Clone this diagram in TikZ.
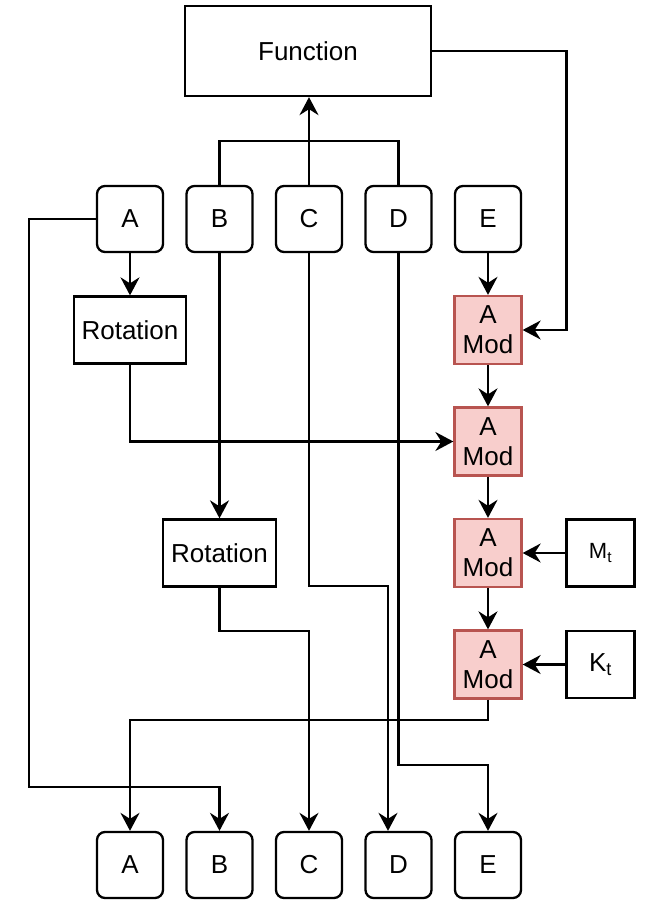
\documentclass[tikz,border=0pt]{standalone}
\usepackage{fontspec}
\setmainfont{Liberation Sans}
\usetikzlibrary{positioning,arrows.meta}
\definecolor{modfill}{HTML}{F8CECC}
\definecolor{modline}{HTML}{B85450}
\tikzset{
    link/.style={-{Stealth[length=18pt, width=19pt, inset=6pt]}},
    varbox/.style={draw, rounded corners=8pt, minimum width=66pt, minimum height=66pt, inner sep=0pt},
    plainbox/.style={draw, minimum height=67pt, inner sep=0pt},
    modbox/.style={draw=modline, fill=modfill, minimum width=67pt, minimum height=68pt, inner sep=0pt, align=center}
}

\begin{document}
\begin{tikzpicture}[x=1pt, y=-1pt, line width=2.3pt,
    every node/.style={font=\fontsize{26}{30}\selectfont}]
    \useasboundingbox (0,0) rectangle (649,923);

    \node [draw, minimum width=246pt, minimum height=90pt] (func) at (308,51) {Function};

    % inputs
    \node [varbox] (Ain) at (130,219) {A};
    \node [varbox, right=21.2pt of Ain] (Bin) {B};
    \node [varbox, right=21.2pt of Bin] (Cin) {C};
    \node [varbox, right=21.2pt of Cin] (Din) {D};
    \node [varbox, right=21.2pt of Din] (Ein) {E};

    % outputs
    \node [varbox] (Aout) at (130,865) {A};
    \node [varbox, right=21.2pt of Aout] (Bout) {B};
    \node [varbox, right=21.2pt of Bout] (Cout) {C};
    \node [varbox, right=21.2pt of Cout] (Dout) {D};
    \node [varbox, right=21.2pt of Dout] (Eout) {E};

    \node [plainbox, minimum width=112pt] (rot1) at (130,330) {Rotation};
    \node [plainbox, minimum width=113pt] (rot2) at (219.5,553) {Rotation};

    \node [modbox] (mod1) at (Ein |- 0,330) {A\\Mod};
    \node [modbox] (mod2) at (Ein |- 0,441.5) {A\\Mod};
    \node [modbox] (mod3) at (Ein |- 0,553) {A\\Mod};
    \node [modbox] (mod4) at (Ein |- 0,664.5) {A\\Mod};

    \node [plainbox, minimum width=68pt] (Mt) at (600.5,553) {\fontsize{22}{26}\selectfont M\textsubscript{t}};
    \node [plainbox, minimum width=68pt] (Kt) at (600.5,664.5) {K\textsubscript{t}};

    \coordinate (aleft) at (29,787);
    \coordinate (fright) at (566.6,330);
    \coordinate (cbend) at (388,586);
    \coordinate (dbend) at (Eout.north |- 0,765);
    \coordinate (rbend) at (Cout.north |- 0,631);
    \coordinate (mbend) at (Aout.north |- 0,720);

    % into the function
    \draw (Bin.north) -- ++(0,-44) -| (Din.north);
    \draw [link] (Cin.north) -- (Cin.north |- func.south);
    \draw [link] (func.east) -| (fright) -- (mod1.east);

    \draw [link] (Ain.south) -- (rot1.north);
    \draw [link] (Ain.west) -| (aleft) -| (Bout.north);
    \draw [link] (rot1.south) |- (mod2.west);
    \draw [link] (Bin.south) -- (Bin.south |- rot2.north);
    \draw [link] (rot2.south) |- (rbend) -- (Cout.north);
    \draw [link] (Cin.south) |- (cbend) -- (cbend |- Dout.north);
    \draw [link] (Din.south) |- (dbend) -- (Eout.north);

    \draw [link] (Ein.south) -- (mod1.north);
    \draw [link] (mod1.south) -- (mod2.north);
    \draw [link] (mod2.south) -- (mod3.north);
    \draw [link] (mod3.south) -- (mod4.north);
    \draw [link] (Mt.west) -- (mod3.east);
    \draw [link] (Kt.west) -- (mod4.east);
    \draw [link] (mod4.south) |- (mbend) -- (Aout.north);
\end{tikzpicture}
\end{document}
